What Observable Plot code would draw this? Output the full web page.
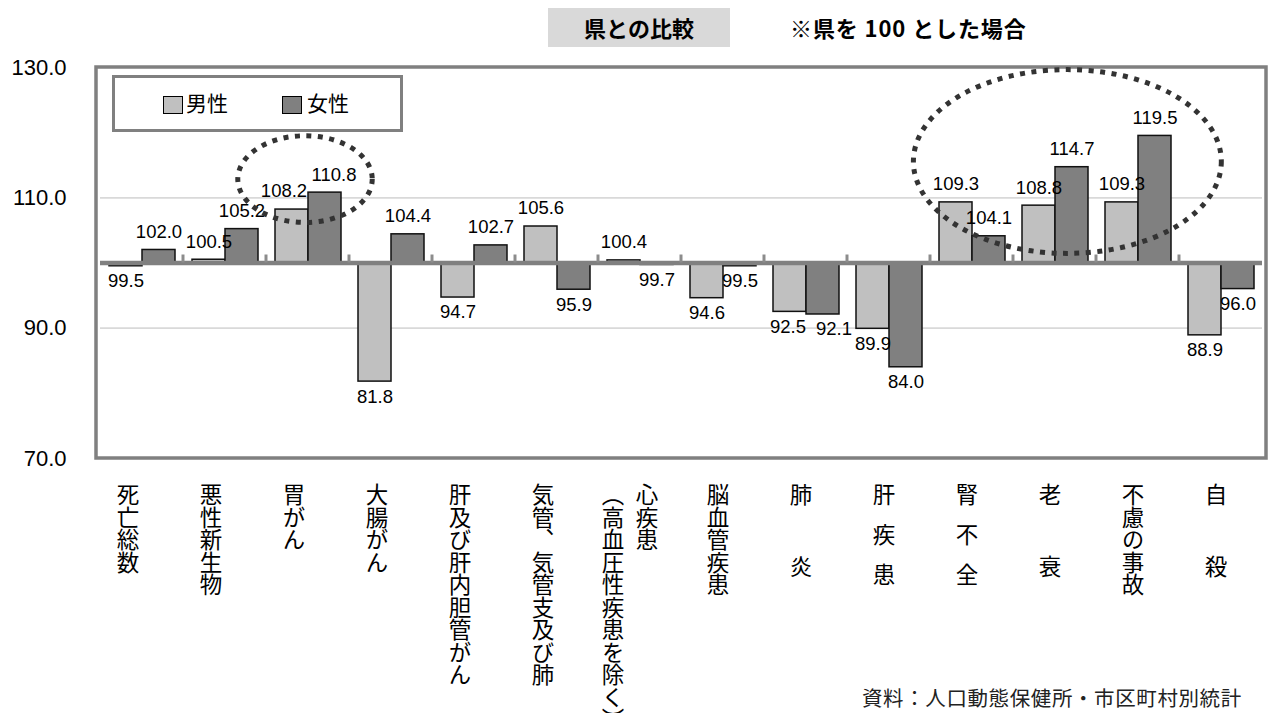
<!DOCTYPE html>
<html lang="ja">
<head>
<meta charset="utf-8">
<script src="https://cdn.jsdelivr.net/npm/d3@7"></script>
<script src="https://cdn.jsdelivr.net/npm/@observablehq/plot@0.6"></script>
<style>
  body { margin: 0; background: #fff; }
  #wrap { position: relative; width: 1269px; height: 713px; overflow: hidden; font-family: "Noto Sans CJK JP", sans-serif; color: #000; }
  #wrap svg { position: absolute; left: 0; top: 0; }
  .title { position: absolute; left: 548px; top: 8px; width: 182px; height: 39px; background: #d9d9d9; font-size: 22px; font-weight: 700; line-height: 39px; text-align: center; }
  .note { position: absolute; left: 790px; top: 8px; height: 39px; font-size: 22px; font-weight: 700; line-height: 39px; white-space: nowrap; letter-spacing: 0.9px; }
  .legend { position: absolute; left: 112px; top: 75px; width: 291px; height: 57px; box-sizing: border-box; border: 3.3px solid #808080; background: #fff; }
  .legend .sw { position: absolute; width: 20px; height: 18px; box-sizing: border-box; border: 1.5px solid #000; top: 18px; }
  .legend .lb { position: absolute; top: 9px; font-size: 21px; line-height: 30px; white-space: nowrap; }
  .source { position: absolute; left: 862px; top: 684px; font-size: 20.5px; line-height: 26px; color: #222; white-space: nowrap; letter-spacing: 0.6px; }
  text.tategaki { writing-mode: vertical-rl; text-orientation: mixed; }
</style>
</head>
<body>
<div id="wrap"></div>
<script>
// 死因別標準化死亡比（県＝100）
const causes = ["死亡総数", "悪性新生物", "胃がん", "大腸がん", "肝及び肝内胆管がん", "気管、気管支及び肺", "心疾患（高血圧性疾患を除く）", "脳血管疾患", "肺炎", "肝疾患", "腎不全", "老衰", "不慮の事故", "自殺"];
const male   = [99.5, 100.5, 108.2, 81.8, 94.7, 105.6, 100.4, 94.6, 92.5, 89.9, 109.3, 108.8, 109.3, 88.9];
const female = [102.0, 105.2, 110.8, 104.4, 102.7, 95.9, 99.7, 99.5, 92.1, 84.0, 104.1, 114.7, 119.5, 96.0];
const sexes = ["男性", "女性"];
const sexColors = ["#c0c0c0", "#808080"];
const yTicks = [70, 90, 110, 130];
const baseValue = 100;

const titleText = "県との比較";
const noteText = "※県を 100 とした場合";
const sourceText = "資料：人口動態保健所・市区町村別統計";

// long-form rows for the grouped bars
const rows = causes.flatMap((c, i) => [
  {cause: c, sex: sexes[0], value: male[i]},
  {cause: c, sex: sexes[1], value: female[i]}
]);

// value labels of a pair that sit on the same side of the base line at nearly
// the same height are pushed apart sideways so they do not collide
const crowded = causes.map((c, i) =>
  (male[i] - baseValue) * (female[i] - baseValue) > 0 && Math.abs(male[i] - female[i]) < 3);
const labelSide = d => {
  const i = causes.indexOf(d.cause);
  return crowded[i] ? (d.sex === sexes[0] ? -1 : 1) : 0;
};

// axis labels: main name, plus a parenthetical sub-label when present
const labelRows = causes.map((c, i) => {
  const k = c.indexOf("（");
  return {cause: c, i, main: k < 0 ? c : c.slice(0, k), sub: k < 0 ? null : c.slice(k)};
});
const labelTexts = new Set(labelRows.flatMap(d => d.sub ? [d.main, d.sub] : [d.main]));
// wider character gaps used by the short labels
const labelGap = {"肺炎": 49.5, "老衰": 49.5, "自殺": 49.5, "肝疾患": 17.5, "腎不全": 17.5};

const W = 1269, H = 713;
const mL = 96, mR = 3, mT = 67, plotBottom = 458;
const fmt = d => d.toFixed(1);

const catLabel = (data, opts) => Plot.text(data, {
  fx: "cause", frameAnchor: "bottom", dy: 25, textAnchor: "start", lineAnchor: "bottom",
  fontFamily: "Noto Sans CJK JP", fontSize: 22.5, fill: "#000", ...opts
});

const valueLabel = (data, dy, dx) => Plot.text(data, {
  fx: "cause", x: "sex", y: "value", text: d => fmt(d.value), dy, dx, fontSize: 18.5, fill: "#000"
});
const above = rows.filter(d => d.value >= baseValue), below = rows.filter(d => d.value < baseValue);
const side = (arr, s) => arr.filter(d => labelSide(d) === s);

const chart = Plot.plot({
  width: W, height: H,
  marginLeft: mL, marginRight: mR, marginTop: mT, marginBottom: H - plotBottom,
  style: {fontFamily: "'Liberation Sans', Arial, sans-serif", fontSize: "22px", color: "#000", background: "transparent", overflow: "visible"},
  fx: {domain: causes, padding: 0, axis: null, label: null},
  x: {domain: sexes, paddingInner: 0, paddingOuter: 0.25, axis: null},
  y: {domain: [70, 130], ticks: yTicks, tickFormat: fmt, tickSize: 0, tickPadding: 34, label: null},
  color: {domain: sexes, range: sexColors},
  marks: [
    Plot.ruleY([90, 110], {stroke: "#d9d9d9", strokeWidth: 1.6}),
    Plot.barY(rows, {fx: "cause", x: "sex", y1: baseValue, y2: "value", fill: "sex", stroke: "#111", strokeWidth: 1.5}),
    Plot.ruleY([baseValue], {stroke: "#808080", strokeWidth: 4.5}),
    valueLabel(side(above, 0), -18, 0),
    valueLabel(side(above, -1), -18, -8),
    valueLabel(side(above, 1), -18, 9),
    valueLabel(side(below, 0), 15, 0),
    valueLabel(side(below, -1), 15, -2),
    valueLabel(side(below, 1), 15, 11),
    catLabel(labelRows.filter(d => d.i < 6), {text: "main", dx: -14}),
    catLabel(labelRows.filter(d => d.i >= 6 && d.sub), {text: "main", dx: 7}),
    catLabel(labelRows.filter(d => d.sub), {text: "sub", dx: -27}),
    catLabel(labelRows.filter(d => d.i >= 6 && !d.sub), {text: "main", dx: -5})
  ]
});

// vertical (tategaki) writing for the category labels
chart.querySelectorAll("text").forEach(t => {
  if (!labelTexts.has(t.textContent)) return;
  ["y", "dy"].forEach(a => { const v = t.getAttribute(a); if (v && /em$/.test(v)) t.removeAttribute(a); });
  t.classList.add("tategaki");
  t.setAttribute("writing-mode", "vertical-rl");
  t.style.setProperty("writing-mode", "vertical-rl");
  t.style.setProperty("text-orientation", "mixed");
  const gap = labelGap[t.textContent];
  if (gap) t.style.setProperty("letter-spacing", gap + "px");
});

// plot frame, category tick marks on the base line, dotted highlight ellipses
const fx = chart.scale("fx"), ys = chart.scale("y");
const bw = fx.bandwidth ?? (W - mL - mR) / causes.length;
const svg = d3.select(chart);
const deco = svg.append("g");
const y100 = ys.apply(baseValue);
causes.slice(1).forEach(c => {
  const x = fx.apply(c);
  deco.append("line").attr("x1", x).attr("x2", x).attr("y1", y100 - 8).attr("y2", y100)
    .attr("stroke", "#8c8c8c").attr("stroke-width", 3);
});
deco.append("rect")
  .attr("x", mL).attr("y", ys.apply(130))
  .attr("width", W - mL - mR).attr("height", ys.apply(70) - ys.apply(130))
  .attr("fill", "none").attr("stroke", "#808080").attr("stroke-width", 3.5);

const highlights = [
  {cause: "胃がん", at: 0.47, rBands: 0.81, yc: 112.8, ry: 6.65},
  {cause: "老衰", at: 0.655, rBands: 1.855, yc: 115.5, ry: 14.1}
];
highlights.forEach(h => {
  const cy = ys.apply(h.yc);
  deco.append("ellipse")
    .attr("cx", fx.apply(h.cause) + bw * h.at).attr("cy", cy)
    .attr("rx", bw * h.rBands).attr("ry", ys.apply(h.yc - h.ry) - cy)
    .attr("fill", "none").attr("stroke", "#333").attr("stroke-width", 5)
    .attr("stroke-dasharray", "5 6.5");
});

// page assembly: title, note, legend, source
const wrap = document.getElementById("wrap");
wrap.appendChild(chart);
const add = (cls, text) => { const d = document.createElement("div"); d.className = cls; if (text) d.textContent = text; wrap.appendChild(d); return d; };
add("title", titleText);
add("note", noteText);
const legend = add("legend");
sexes.forEach((s, i) => {
  const sw = document.createElement("span");
  sw.className = "sw";
  sw.style.left = (48 + i * 119) + "px";
  sw.style.background = sexColors[i];
  legend.appendChild(sw);
  const lb = document.createElement("span");
  lb.className = "lb";
  lb.style.left = (71 + i * 121) + "px";
  lb.textContent = s;
  legend.appendChild(lb);
});
add("source", sourceText);
</script>
</body>
</html>
